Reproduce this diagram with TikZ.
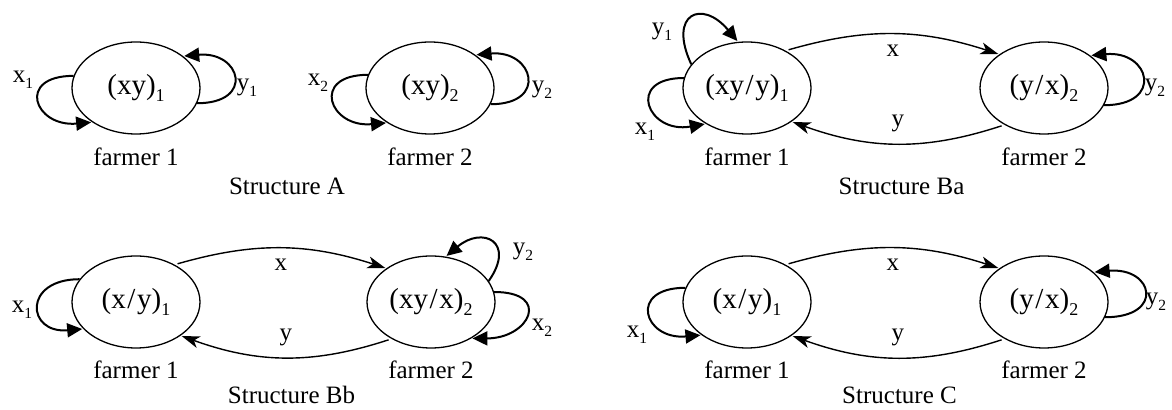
\documentclass[tikz,border=0pt]{standalone}
\usepackage{fontspec}
\setmainfont{Liberation Serif}
\usetikzlibrary{arrows.meta, positioning, calc, shapes.geometric}
\newcommand\idx[1]{\raisebox{-0.5ex}{\scalebox{0.62}{#1}}}
\newcommand\per{\kern0.8pt/\kern0.8pt}

\begin{document}
\begin{tikzpicture}[x=0.5pt, y=0.5pt,
    farm/.style={ellipse, draw, line width=0.65pt, minimum width=64pt, minimum height=46pt, inner sep=0pt, font=\fontsize{14.5}{16}\selectfont},
    lbl/.style={inner sep=0pt, font=\fontsize{12.5}{14}\selectfont},
    selfarc/.style={line width=1pt, -{Triangle[length=7.5pt, width=7pt]}, shorten >=0.5pt},
    trade/.style={line width=0.7pt, -{Stealth[length=9pt, width=6pt, inset=2.5pt]}, shorten <=1.5pt, shorten >=0.5pt}]
    \useasboundingbox (0,0) rectangle (1172,-410);

    \node[farm] (A1) at (136,-88) {(xy)\idx{1}};
    \node[farm] (A2) at (430,-88) {(xy)\idx{2}};
    \node[lbl, below=6.5pt of A1] (fA1) {farmer 1};
    \node[lbl, below=6.5pt of A2] (fA2) {farmer 2};
    \node[lbl] (sA) at ($(A1)!.5!(A2)+(4,-98)$) {Structure A};
    \draw[selfarc] (A1.169) to[out=180, in=185, distance=29pt] (A1.218);
    \draw[selfarc] (A1.346) to[out=0, in=5, distance=29pt] (A1.34);
    \draw[selfarc] (A2.168) to[out=180, in=185, distance=29pt] (A2.219);
    \draw[selfarc] (A2.345) to[out=0, in=5, distance=29pt] (A2.36);
    \node[lbl] (xA1) at ($(A1)+(-113,8)$) {x\idx{1}};
    \node[lbl] (yA1) at ($(A1)+(111,0)$) {y\idx{1}};
    \node[lbl] (xA2) at ($(A2)+(-112,5)$) {x\idx{2}};
    \node[lbl] (yA2) at ($(A2)+(112,-2)$) {y\idx{2}};

    \node[farm] (Ba1) at (747,-88) {(xy\per y)\idx{1}};
    \node[farm] (Ba2) at (1044,-88) {(y\per x)\idx{2}};
    \node[lbl, below=6.5pt of Ba1] (fBa1) {farmer 1};
    \node[lbl, below=6.5pt of Ba2] (fBa2) {farmer 2};
    \node[lbl] (sBa) at ($(Ba1)!.5!(Ba2)+(6,-98)$) {Structure Ba};
    \draw[selfarc] (Ba1.157) to[out=115, in=130, distance=28pt] (Ba1.101);
    \draw[selfarc] (Ba1.171) to[out=180, in=190, distance=29.5pt] (Ba1.221);
    \draw[selfarc] (Ba2.344) to[out=0, in=5, distance=30pt] (Ba2.35);
    \draw[trade] (Ba1.44) to[bend left=17] node[lbl, below=5pt] {x} (Ba2.143);
    \draw[trade] (Ba2.223) to[bend left=19] node[lbl, above=5.5pt] {y} (Ba1.323);
    \node[lbl] (yBa1) at ($(Ba1)+(-85,56)$) {y\idx{1}};
    \node[lbl] (xBa1) at ($(Ba1)+(-102,-44)$) {x\idx{1}};
    \node[lbl] (yBa2) at ($(Ba2)+(111,0)$) {y\idx{2}};

    \node[farm] (Bb1) at (136,-302) {(x\per y)\idx{1}};
    \node[farm] (Bb2) at (431,-302) {(xy\per x)\idx{2}};
    \node[lbl, below=6pt of Bb1] (fBb1) {farmer 1};
    \node[lbl, below=6pt of Bb2] (fBb2) {farmer 2};
    \node[lbl] (sBb) at ($(Bb1)!.5!(Bb2)+(8,-93)$) {Structure Bb};
    \draw[selfarc] (Bb1.158) to[out=180, in=185, distance=28.5pt] (Bb1.207);
    \draw[selfarc] (Bb2.20) to[out=55, in=40, distance=24pt] (Bb2.72);
    \draw[selfarc] (Bb2.9) to[out=0, in=0, distance=29pt] (Bb2.318);
    \draw[trade] (Bb1.44) to[bend left=17] node[lbl, below=5pt] {x} (Bb2.143);
    \draw[trade] (Bb2.223) to[bend left=19] node[lbl, above=5.5pt] {y} (Bb1.323);
    \node[lbl] (xBb1) at ($(Bb1)+(-114,-8)$) {x\idx{1}};
    \node[lbl] (yBb2) at ($(Bb2)+(92,50)$) {y\idx{2}};
    \node[lbl] (xBb2) at ($(Bb2)+(111,-26)$) {x\idx{2}};

    \node[farm] (C1) at (747,-302) {(x\per y)\idx{1}};
    \node[farm] (C2) at (1044,-302) {(y\per x)\idx{2}};
    \node[lbl, below=6pt of C1] (fC1) {farmer 1};
    \node[lbl, below=6pt of C2] (fC2) {farmer 2};
    \node[lbl] (sC) at ($(C1)!.5!(C2)+(4,-93)$) {Structure C};
    \draw[selfarc] (C1.167) to[out=180, in=185, distance=29pt] (C1.216);
    \draw[selfarc] (C2.346) to[out=0, in=5, distance=30pt] (C2.31);
    \draw[trade] (C1.44) to[bend left=17] node[lbl, below=5pt] {x} (C2.143);
    \draw[trade] (C2.223) to[bend left=19] node[lbl, above=5.5pt] {y} (C1.323);
    \node[lbl] (xC1) at ($(C1)+(-110,-33)$) {x\idx{1}};
    \node[lbl] (yC2) at ($(C2)+(112,0)$) {y\idx{2}};
\end{tikzpicture}
\end{document}
